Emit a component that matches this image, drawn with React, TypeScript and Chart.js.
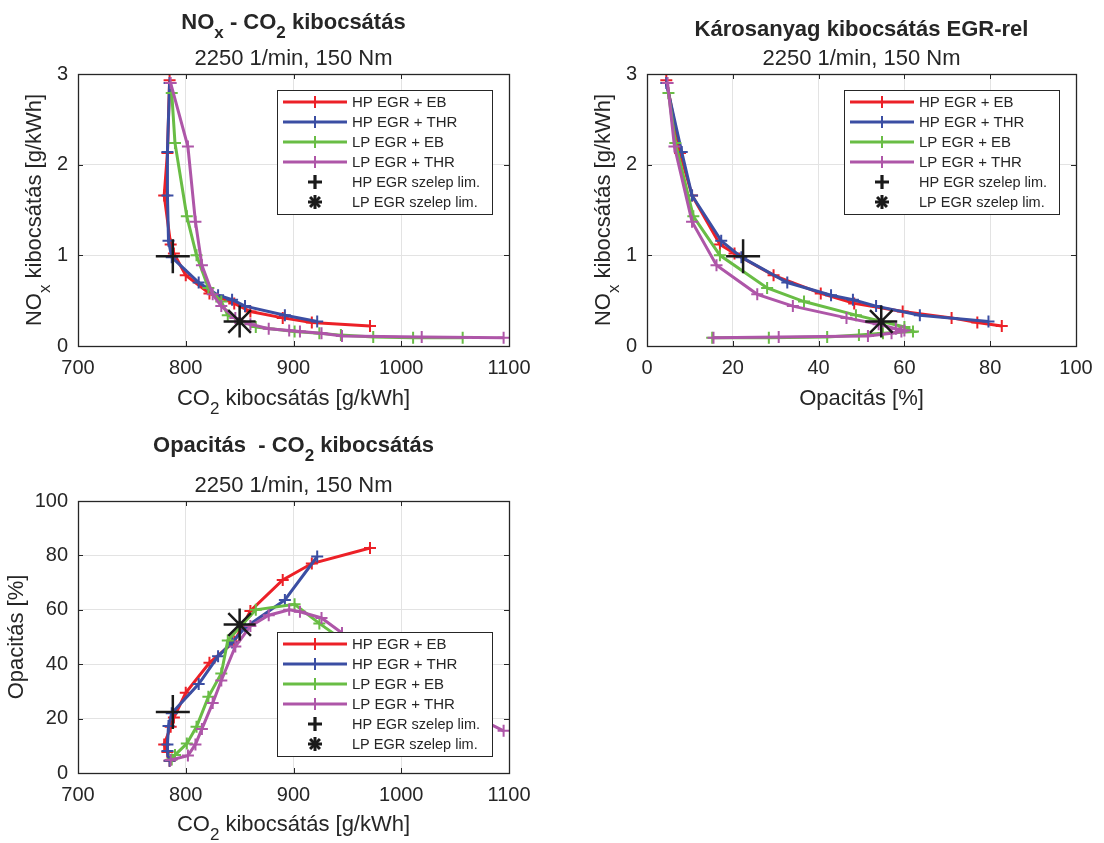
import React, { useEffect, useRef } from 'react';
import { Chart, registerables } from 'chart.js';

Chart.register(...registerables);

const FONT = '"Liberation Sans", Arial, Helvetica, sans-serif';
const TXT = '#262626';
const GRID = '#e3e3e3';

// ---- data: each operating point has CO2, NOx and opacity ----
const seriesNames = ['HP EGR + EB', 'HP EGR + THR', 'LP EGR + EB', 'LP EGR + THR'];
const seriesColors = ['#ec2027', '#3b4ea3', '#69bd45', '#ae56a8'];
const markerNames = ['HP EGR szelep lim.', 'LP EGR szelep lim.'];

const hpEbCo2 = [785, 783, 780, 786, 789, 800, 822, 845, 860, 890, 917, 971];
const hpEbNox = [2.93, 2.13, 1.66, 1.12, 1.02, 0.78, 0.58, 0.47, 0.38, 0.31, 0.26, 0.22];
const hpEbOpa = [4.5, 7.7, 10.5, 17, 20.4, 29.5, 40.5, 48.3, 59.6, 71, 77, 82.7];

const hpThrCo2 = [785, 783, 783, 784, 787, 812, 830, 843, 855, 892, 922];
const hpThrNox = [2.9, 2.14, 1.66, 1.16, 0.98, 0.7, 0.56, 0.51, 0.44, 0.34, 0.27];
const hpThrOpa = [4.5, 8.1, 10.5, 17.3, 22, 32.7, 42.9, 48, 53.4, 63.6, 79.6];

const lpEbCo2 = [787, 790, 801, 810, 821, 833, 839, 865, 901, 924, 944, 974, 1011, 1057];
const lpEbNox = [2.79, 2.24, 1.43, 1.0, 0.64, 0.49, 0.34, 0.21, 0.16, 0.14, 0.12, 0.1, 0.09, 0.09];
const lpEbOpa = [5, 6.6, 10.8, 17, 28, 36.6, 48.7, 60, 62, 55, 49.4, 42, 28.4, 15.2];

const lpThrCo2 = [786, 802, 809, 815, 825, 833, 846, 860, 877, 896, 906, 926, 945, 1019, 1095];
const lpThrNox = [2.9, 2.2, 1.37, 0.89, 0.57, 0.44, 0.31, 0.24, 0.19, 0.17, 0.16, 0.14, 0.11, 0.1, 0.09];
const lpThrOpa = [4.8, 6.4, 10.5, 16.2, 25.7, 34, 46.5, 54, 58, 60, 59.3, 57, 51.5, 30.7, 15.5];

const hpLimCo2 = [788];
const hpLimNox = [0.99];
const hpLimOpa = [22.4];

const lpLimCo2 = [850];
const lpLimNox = [0.27];
const lpLimOpa = [54.6];

const co2Ticks = [700, 800, 900, 1000, 1100];
const noxTicks = [0, 1, 2, 3];
const opaTicks = [0, 20, 40, 60, 80, 100];

type Key = 'co2' | 'nox' | 'opa';
const seriesData: Record<Key, number[]>[] = [
  { co2: hpEbCo2, nox: hpEbNox, opa: hpEbOpa },
  { co2: hpThrCo2, nox: hpThrNox, opa: hpThrOpa },
  { co2: lpEbCo2, nox: lpEbNox, opa: lpEbOpa },
  { co2: lpThrCo2, nox: lpThrNox, opa: lpThrOpa },
];
const limData: Record<Key, number[]>[] = [
  { co2: hpLimCo2, nox: hpLimNox, opa: hpLimOpa },
  { co2: lpLimCo2, nox: lpLimNox, opa: lpLimOpa },
];

type Part = { t: string; sub?: boolean };

function drawRich(ctx: CanvasRenderingContext2D, parts: Part[], x: number, y: number, size: number, bold: boolean, rotate: boolean) {
  ctx.save();
  ctx.translate(x, y);
  if (rotate) ctx.rotate(-Math.PI / 2);
  const fontOf = (p: Part) => `${bold ? 'bold ' : ''}${p.sub ? Math.round(size * 0.78) : size}px ${FONT}`;
  let total = 0;
  const widths = parts.map((p) => {
    ctx.font = fontOf(p);
    const w = ctx.measureText(p.t).width;
    total += w;
    return w;
  });
  let cx = -total / 2;
  const base = size * 0.36;
  ctx.fillStyle = TXT;
  ctx.textBaseline = 'alphabetic';
  ctx.textAlign = 'left';
  parts.forEach((p, i) => {
    ctx.font = fontOf(p);
    ctx.fillText(p.t, cx, base + (p.sub ? size * 0.4 : 0));
    cx += widths[i];
  });
  ctx.restore();
}

function drawCross(ctx: CanvasRenderingContext2D, x: number, y: number, r: number) {
  ctx.beginPath();
  ctx.moveTo(x - r, y);
  ctx.lineTo(x + r, y);
  ctx.moveTo(x, y - r);
  ctx.lineTo(x, y + r);
  ctx.stroke();
}

function drawStar(ctx: CanvasRenderingContext2D, x: number, y: number, r: number) {
  drawCross(ctx, x, y, r);
  const d = r * Math.SQRT1_2;
  ctx.beginPath();
  ctx.moveTo(x - d, y - d);
  ctx.lineTo(x + d, y + d);
  ctx.moveTo(x - d, y + d);
  ctx.lineTo(x + d, y - d);
  ctx.stroke();
}

type PlotCfg = {
  xKey: Key;
  yKey: Key;
  xTicks: number[];
  yTicks: number[];
  width: number;
  height: number;
  area: { left: number; top: number; right: number; bottom: number };
  title: Part[];
  titleY: number;
  subtitle: string;
  subtitleY: number;
  xLabel: Part[];
  xLabelY: number;
  yLabel: Part[];
  yLabelX: number;
  legend: { left: number; top: number; width: number; height: number };
};

function makeDecor(cfg: PlotCfg) {
  return {
    id: 'matlabDecor',
    afterDraw(chart: any) {
      const ctx: CanvasRenderingContext2D = chart.ctx;
      const a = chart.chartArea;
      const xs = chart.scales.x;
      const ys = chart.scales.y;
      ctx.save();
      ctx.strokeStyle = TXT;
      ctx.lineWidth = 1;
      const tl = 5;
      ctx.beginPath();
      xs.ticks.forEach((t: any) => {
        const p = Math.round(xs.getPixelForValue(t.value)) + 0.5;
        ctx.moveTo(p, a.bottom);
        ctx.lineTo(p, a.bottom - tl);
        ctx.moveTo(p, a.top);
        ctx.lineTo(p, a.top + tl);
      });
      ys.ticks.forEach((t: any) => {
        const p = Math.round(ys.getPixelForValue(t.value)) + 0.5;
        ctx.moveTo(a.left, p);
        ctx.lineTo(a.left + tl, p);
        ctx.moveTo(a.right, p);
        ctx.lineTo(a.right - tl, p);
      });
      ctx.stroke();
      ctx.lineWidth = 1.3;
      ctx.strokeRect(Math.round(a.left) + 0.5, Math.round(a.top) + 0.5, Math.round(a.right - a.left), Math.round(a.bottom - a.top));

      // legend
      const L = cfg.legend;
      ctx.fillStyle = '#ffffff';
      ctx.fillRect(L.left, L.top, L.width, L.height);
      ctx.lineWidth = 1;
      ctx.strokeStyle = TXT;
      ctx.strokeRect(L.left + 0.5, L.top + 0.5, L.width, L.height);
      const rowH = 20;
      const names = [...seriesNames, ...markerNames];
      names.forEach((name, i) => {
        const ry = L.top + 12 + i * rowH;
        const mx = L.left + 38;
        if (i < 4) {
          ctx.strokeStyle = seriesColors[i];
          ctx.lineWidth = 3;
          ctx.beginPath();
          ctx.moveTo(L.left + 6, ry);
          ctx.lineTo(L.left + 70, ry);
          ctx.stroke();
          ctx.lineWidth = 2;
          drawCross(ctx, mx, ry, 6);
        } else if (i === 4) {
          ctx.strokeStyle = '#1a1a1a';
          ctx.lineWidth = 3.2;
          drawCross(ctx, mx, ry, 7);
        } else {
          ctx.strokeStyle = '#1a1a1a';
          ctx.lineWidth = 3;
          drawStar(ctx, mx, ry, 7);
        }
        ctx.fillStyle = TXT;
        ctx.font = `${i < 4 ? 15 : 14.5}px ${FONT}`;
        ctx.textAlign = 'left';
        ctx.textBaseline = 'middle';
        ctx.fillText(name, L.left + 75, ry + 1);
      });

      // titles & labels
      const cxArea = (a.left + a.right) / 2;
      const cyArea = (a.top + a.bottom) / 2;
      drawRich(ctx, cfg.title, cxArea, cfg.titleY, 22, true, false);
      drawRich(ctx, [{ t: cfg.subtitle }], cxArea, cfg.subtitleY, 22, false, false);
      drawRich(ctx, cfg.xLabel, cxArea, cfg.xLabelY, 22, false, false);
      drawRich(ctx, cfg.yLabel, cfg.yLabelX, cyArea, 22, false, true);
      ctx.restore();
    },
  };
}

function buildConfig(cfg: PlotCfg): any {
  const datasets: any[] = seriesData.map((s, i) => ({
    label: seriesNames[i],
    data: s[cfg.xKey].map((v, j) => ({ x: v, y: s[cfg.yKey][j] })),
    showLine: true,
    borderColor: seriesColors[i],
    backgroundColor: seriesColors[i],
    borderWidth: 3,
    pointStyle: 'cross',
    pointRadius: 6,
    pointHoverRadius: 6,
    pointBorderWidth: 2,
    pointBorderColor: seriesColors[i],
    order: 6 - i,
    clip: 10,
  }));
  limData.forEach((s, i) => {
    datasets.push({
      label: markerNames[i],
      data: s[cfg.xKey].map((v, j) => ({ x: v, y: s[cfg.yKey][j] })),
      showLine: false,
      borderColor: '#1a1a1a',
      backgroundColor: '#1a1a1a',
      pointStyle: i === 0 ? 'cross' : 'star',
      pointRadius: i === 0 ? 17 : 16,
      pointHoverRadius: i === 0 ? 17 : 16,
      pointBorderWidth: 2.5,
      order: 1 - i,
      clip: 20,
    });
  });
  const tickFont = { family: FONT, size: 20 };
  const xt = cfg.xTicks;
  const yt = cfg.yTicks;
  const plain = (v: any) => String(v);
  return {
    type: 'scatter',
    data: { datasets },
    options: {
      responsive: false,
      animation: false,
      events: [],
      layout: {
        padding: { left: 0, top: cfg.area.top, right: cfg.width - cfg.area.right, bottom: 0 },
      },
      plugins: { legend: { display: false }, tooltip: { enabled: false }, title: { display: false } },
      scales: {
        x: {
          type: 'linear',
          min: xt[0],
          max: xt[xt.length - 1],
          ticks: {
            stepSize: xt[1] - xt[0],
            font: tickFont,
            color: TXT,
            padding: 10,
            maxRotation: 0,
            autoSkip: false,
            callback: plain,
          },
          grid: { color: GRID, drawTicks: false, lineWidth: 1 },
          border: { display: false },
          afterFit: (s: any) => {
            s.height = cfg.height - cfg.area.bottom;
          },
        },
        y: {
          type: 'linear',
          min: yt[0],
          max: yt[yt.length - 1],
          ticks: {
            stepSize: yt[1] - yt[0],
            font: tickFont,
            color: TXT,
            padding: 10,
            autoSkip: false,
            callback: plain,
          },
          grid: { color: GRID, drawTicks: false, lineWidth: 1 },
          border: { display: false },
          afterFit: (s: any) => {
            s.width = cfg.area.left;
          },
        },
      },
    },
    plugins: [makeDecor(cfg)],
  };
}

const NOX_LABEL: Part[] = [{ t: 'NO' }, { t: 'x', sub: true }, { t: ' kibocsátás [g/kWh]' }];
const CO2_LABEL: Part[] = [{ t: 'CO' }, { t: '2', sub: true }, { t: ' kibocsátás [g/kWh]' }];
const OPA_LABEL: Part[] = [{ t: 'Opacitás [%]' }];

const plots: { left: number; top: number; cfg: PlotCfg }[] = [
  {
    left: 0,
    top: 0,
    cfg: {
      xKey: 'co2',
      yKey: 'nox',
      xTicks: co2Ticks,
      yTicks: noxTicks,
      width: 552,
      height: 420,
      area: { left: 78, top: 74, right: 509, bottom: 346 },
      title: [{ t: 'NO' }, { t: 'x', sub: true }, { t: ' - CO' }, { t: '2', sub: true }, { t: ' kibocsátás' }],
      titleY: 21,
      subtitle: '2250 1/min, 150 Nm',
      subtitleY: 57,
      xLabel: CO2_LABEL,
      xLabelY: 397,
      yLabel: NOX_LABEL,
      yLabelX: 33,
      legend: { left: 277, top: 90, width: 215, height: 124 },
    },
  },
  {
    left: 552,
    top: 0,
    cfg: {
      xKey: 'opa',
      yKey: 'nox',
      xTicks: opaTicks,
      yTicks: noxTicks,
      width: 552,
      height: 420,
      area: { left: 95, top: 74, right: 524, bottom: 346 },
      title: [{ t: 'Károsanyag kibocsátás EGR-rel' }],
      titleY: 28,
      subtitle: '2250 1/min, 150 Nm',
      subtitleY: 57,
      xLabel: [{ t: 'Opacitás [%]' }],
      xLabelY: 397,
      yLabel: NOX_LABEL,
      yLabelX: 50,
      legend: { left: 292, top: 90, width: 215, height: 124 },
    },
  },
  {
    left: 0,
    top: 420,
    cfg: {
      xKey: 'co2',
      yKey: 'opa',
      xTicks: co2Ticks,
      yTicks: opaTicks,
      width: 552,
      height: 423,
      area: { left: 78, top: 81, right: 509, bottom: 353 },
      title: [{ t: 'Opacitás  - CO' }, { t: '2', sub: true }, { t: ' kibocsátás' }],
      titleY: 24,
      subtitle: '2250 1/min, 150 Nm',
      subtitleY: 64,
      xLabel: CO2_LABEL,
      xLabelY: 403,
      yLabel: OPA_LABEL,
      yLabelX: 15,
      legend: { left: 277, top: 212, width: 215, height: 124 },
    },
  },
];

function PlotCanvas({ left, top, cfg }: { left: number; top: number; cfg: PlotCfg }) {
  const ref = useRef<HTMLCanvasElement | null>(null);
  useEffect(() => {
    if (!ref.current) return;
    const chart = new Chart(ref.current, buildConfig(cfg));
    return () => chart.destroy();
  }, [cfg]);
  return (
    <canvas
      ref={ref}
      width={cfg.width}
      height={cfg.height}
      style={{ position: 'absolute', left, top, width: cfg.width, height: cfg.height }}
    />
  );
}

export default function App() {
  return (
    <div
      style={{
        position: 'absolute',
        left: 0,
        top: 0,
        width: 1104,
        height: 843,
        background: '#ffffff',
        overflow: 'hidden',
      }}
    >
      {plots.map((p, i) => (
        <PlotCanvas key={i} left={p.left} top={p.top} cfg={p.cfg} />
      ))}
    </div>
  );
}
